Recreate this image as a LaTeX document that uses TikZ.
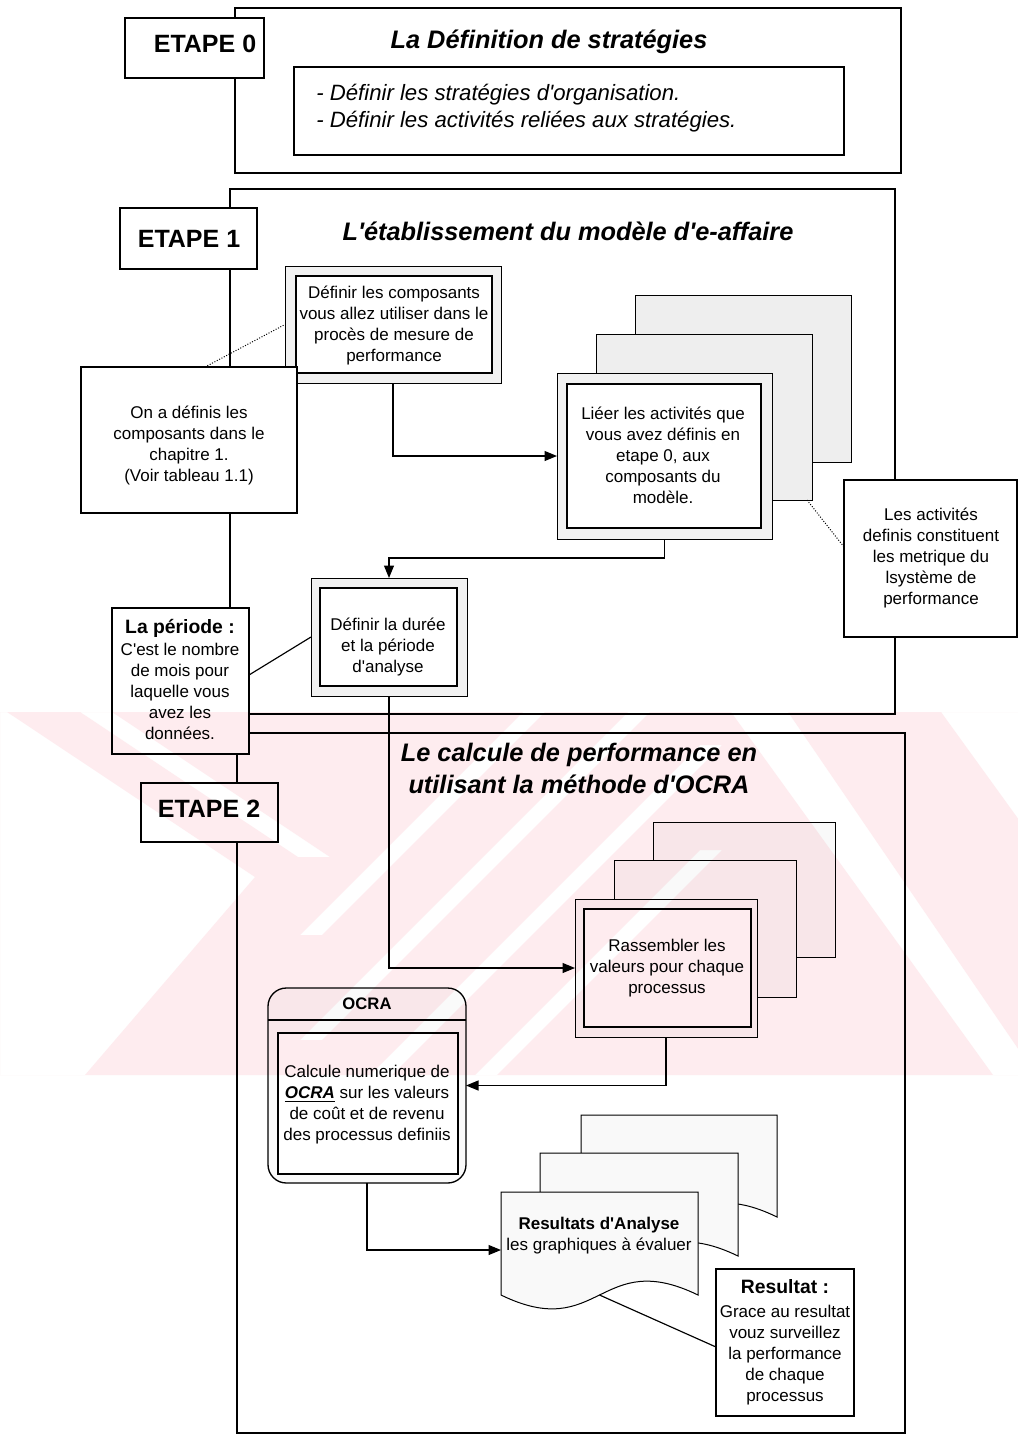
\documentclass[tikz,border=0pt]{standalone}
\usepackage{fontspec}
\setmainfont{Liberation Sans}[Ligatures=TeXOff]
\usetikzlibrary{arrows.meta,calc}

\definecolor{wmpink}{RGB}{254,236,239}

% font sizes
\newcommand\fbody{\fontsize{10.2}{12.6}\selectfont}
\newcommand\ftitle{\fontsize{15.2}{18.6}\selectfont\bfseries\itshape}
\newcommand\fstage{\fontsize{15}{18}\selectfont\bfseries}
\newcommand\fitem{\fontsize{13.3}{16.2}\selectfont\itshape}
\newcommand\fhead{\fontsize{11.6}{14}\selectfont\bfseries}
\newcommand\fsmallhead{\fontsize{10}{12.6}\selectfont\bfseries}

% rectangle node given by its corners (pixel units)
\newcommand\boxat[6]{%
  \node[#6,anchor=north west,inner sep=0pt,outer sep=0pt,
        minimum width={(#4-#2)*0.6pt},minimum height={(#5-#3)*0.6pt}] (#1) at (#2,#3) {};}

\tikzset{
  frame/.style={draw,line width=1.1pt},
  plainbox/.style={draw,line width=0.8pt,fill=white},
  stagebox/.style={draw,line width=1.1pt,fill=white},
  shadebox/.style={draw,line width=0.6pt,fill=gray!11},
  lightsheet/.style={draw,line width=0.6pt,fill=gray!5},
  sheet/.style={draw,line width=0.6pt,fill=gray!13},
  txt/.style={inner sep=0pt,align=center,font=\fbody,
              execute at begin node=\strut,execute at end node=\strut},
  conn/.style={line width=0.7pt},
  arr/.style={-{Triangle[length=7.5pt,width=6pt]}},
  dotline/.style={line width=0.6pt,densely dotted},
}

\begin{document}
\begin{tikzpicture}[x=0.6pt,y=-0.6pt]
\useasboundingbox (0,0) rectangle (1018,1435);
\fill[white] (0,0) rectangle (1018,1435);

% ---------- stage frames ----------
\boxat{frame0}{235}{8}{901}{173}{frame}
\boxat{frame1}{230}{189}{895}{714}{frame}
\boxat{frame2}{237}{733}{905}{1433}{frame}

% ---------- stage 0 ----------
\boxat{e0}{125}{18}{264}{78}{stagebox}
\node[txt,font=\fstage] (e0t) at (205,47) {ETAPE 0};
\node[txt,font=\ftitle] (t0) at (549,42) {La Définition de stratégies};
\boxat{in0}{294}{67}{844}{155}{plainbox}
\node[txt,font=\fitem,align=left,anchor=west] (items) at (316,110)
  {- Définir les stratégies d'organisation.\\- Définir les activités reliées aux stratégies.};

% ---------- stage 1 ----------
\boxat{e1}{120}{208}{257}{269}{stagebox}
\node[txt,font=\fstage] (e1t) at (189,242) {ETAPE 1};
\node[txt,font=\ftitle] (t1) at (568,234) {L'établissement du modèle d'e-affaire};

% components box
\boxat{Ao}{285}{266}{501}{383}{shadebox}
\boxat{Ai}{296}{276}{492}{373}{plainbox}
\node[txt] (At) at (394,326.5) {Définir les composants\\vous allez utiliser dans le\\procès de mesure de\\performance};

% note on chapter 1
\boxat{B}{81}{367}{297}{513}{plainbox}
\node[txt] (Bt) at (189,446.5) {On a définis les\\composants dans le\\chapitre 1.\\(Voir tableau 1.1)};

% stacked sheets: linking activities
\boxat{Cb}{635}{295}{851}{462}{sheet}
\boxat{Cm}{596}{334}{812}{500}{sheet}
\boxat{Cf}{557}{373}{772}{539}{shadebox}
\boxat{Ci}{567}{384}{761}{528}{plainbox}
\node[txt] (Ct) at (663,458) {Liéer les activités que\\vous avez définis en\\etape 0, aux\\composants du\\modèle.};

% note on metrics
\boxat{E}{844}{480}{1017}{637}{plainbox}
\node[txt] (Et) at (931,559) {Les activités\\definis constituent\\les metrique du\\lsystème de\\performance};

% duration box
\boxat{Do}{311}{578}{467}{696}{shadebox}
\boxat{Di}{320}{588}{457}{686}{plainbox}
\node[txt] (Dt) at (388,648) {Définir la durée\\et la période\\d'analyse};

% note on the period
\boxat{F}{112}{608}{249}{754}{plainbox}
\node[txt,font=\fhead] (Fh) at (180,629) {La période :};
\node[txt] (Ft) at (180,694.6) {C'est le nombre\\de mois pour\\laquelle vous\\avez les\\données.};

% ---------- stage 2 ----------
\boxat{e2}{141}{783}{278}{842}{stagebox}
\node[txt,font=\fstage] (e2t) at (209,811) {ETAPE 2};
\node[txt,font=\fontsize{15.2}{19.2}\selectfont\bfseries\itshape] (t2) at (579,773)
  {Le calcule de performance en\\utilisant la méthode d'OCRA};

% stacked sheets: gathering values
\boxat{Gb}{653}{822}{835}{957}{lightsheet}
\boxat{Gm}{614}{860}{796}{997}{lightsheet}
\boxat{Gf}{575}{899}{757}{1037}{lightsheet}
\boxat{Gi}{584}{909}{751}{1027}{plainbox}
\node[txt] (Gt) at (667,969) {Rassembler les\\valeurs pour chaque\\processus};

% OCRA module
\node[draw,line width=0.8pt,fill=gray!4,rounded corners=11pt,anchor=north west,
      inner sep=0pt,outer sep=0pt,minimum width={198*0.6pt},minimum height={195*0.6pt}]
      (ocra) at (268,988) {};
\draw[line width=0.7pt] (268,1020) -- (466,1020);
\node[txt,font=\fsmallhead] (ocrah) at (367,1005) {OCRA};
\boxat{Oi}{278}{1033}{458}{1174}{plainbox}
\node[txt] (Ot) at (367,1106)
  {Calcule numerique de\\\underline{\textbf{\textit{OCRA}}} sur les valeurs\\de coût et de revenu\\des processus definiis};

% result documents (wavy bottom)
\newcommand\docsheet[4]{% x1, ytop, width, base
  \draw[line width=0.6pt,fill=gray!5] (#1,#2) -- ({#1+#3},#2) -- ({#1+#3},#4)
    .. controls ({#1+0.5*#3},{#4-48}) and ({#1+0.5*#3},{#4+48}) .. (#1,#4) -- cycle;}
\docsheet{581}{1115}{196}{1217}
\docsheet{540}{1153}{198}{1256}
\docsheet{501}{1192}{197}{1295}
\boxat{docf}{501}{1192}{698}{1308}{}
\coordinate (wavemid) at (599.5,1295);
\node[txt] (doct) at (599,1237) {\textbf{Resultats d'Analyse}\\les graphiques à évaluer};

% final note
\boxat{R}{716}{1269}{854}{1416}{plainbox}
\node[txt,font=\fhead] (Rh) at (785,1289) {Resultat :};
\node[txt] (Rt) at (785,1356) {Grace au resultat\\vouz surveillez\\la performance\\de chaque\\processus};

% ---------- connectors ----------
\draw[dotline] ([xshift=9.6pt]B.north) -- (Ao.west);
\draw[conn,arr] (Ao.south) |- (Cf.west);
\draw[conn,arr] (Cf.south) -- ++(0,19) -| (Do.north);
\draw[dotline] ([xshift=-3pt]Cm.south east) -- ([yshift=6.9pt]E.west);
\draw[conn] ([yshift=3.6pt]F.east) -- (Do.west);
\draw[conn,arr] (Do.south) |- (Gf.west);
\draw[conn,arr] (Gf.south) |- (ocra.east);
\draw[conn,arr] (ocra.south) |- (docf.west);
\draw[conn] (wavemid) -- ([yshift=-2.7pt]R.west);

% ---------- faint diagonal watermark ----------
\begin{scope}[blend mode=multiply]
\clip (0,712) rectangle (1018,1075);
\fill[wmpink,even odd rule]
  (0,712) rectangle (1018,1075)
  (-20,712) -- (7,712) -- (255,877) -- (85,1075) -- (-20,1075) -- cycle
  (80,712) -- (112,712) -- (330,857) -- (298,857) -- cycle
  (523,712) -- (545,712) -- (322,935) -- (300,935) -- cycle
  (628,712) -- (650,712) -- (322,1040) -- (300,1040) -- cycle
  (700,745) -- (722,745) -- (392,1075) -- (370,1075) -- cycle
  (700,850) -- (722,850) -- (497,1075) -- (475,1075) -- cycle
  (731,712) -- (788,712) -- (1036,1075) -- (993,1075) -- cycle
  (941,712) -- (1040,712) -- (1040,849) -- cycle;
\end{scope}
\end{tikzpicture}
\end{document}
